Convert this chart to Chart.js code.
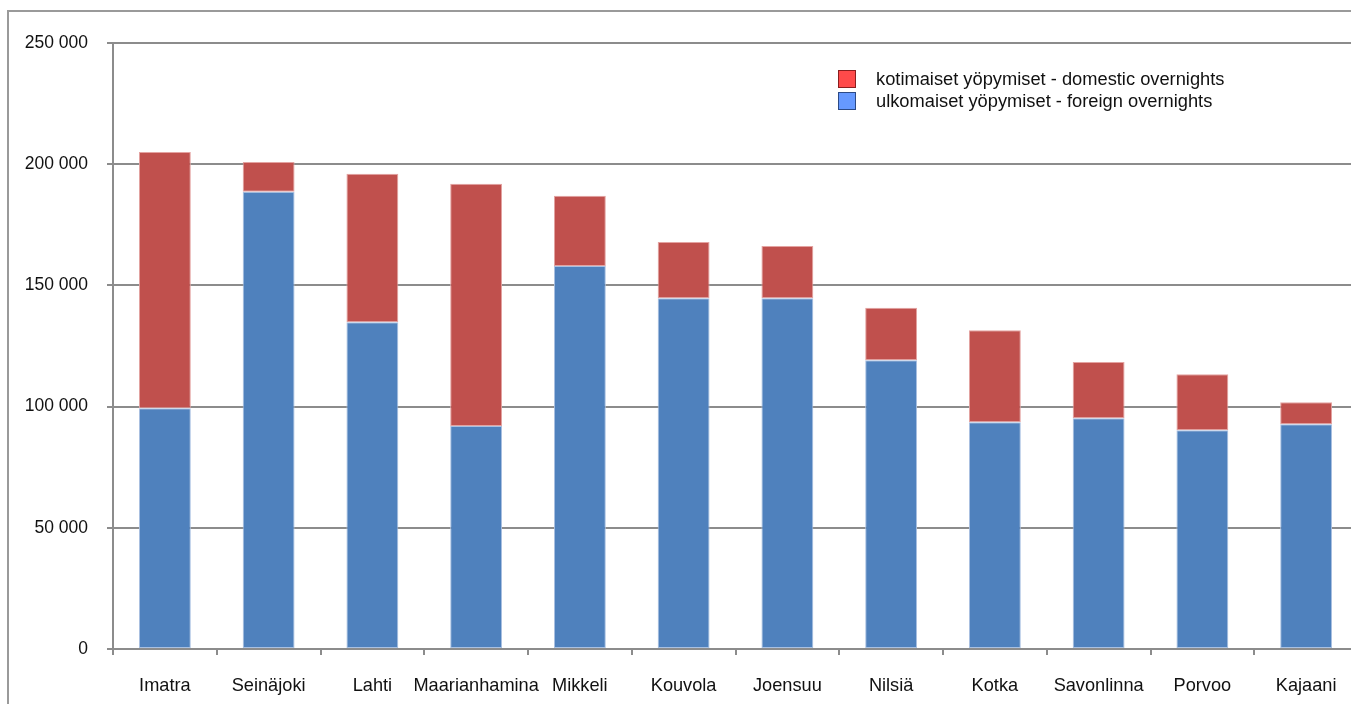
<!DOCTYPE html>
<html>
<head>
<meta charset="utf-8">
<script src="https://cdn.jsdelivr.net/npm/chart.js@4"></script>
<style>
html,body{margin:0;padding:0;overflow:hidden;background:#fff;width:1351px;height:704px;}
canvas{position:absolute;left:0;top:0;}
</style>
</head>
<body>
<canvas id="c" width="1362" height="704"></canvas>
<script>
const categories = ["Imatra","Seinäjoki","Lahti","Maarianhamina","Mikkeli","Kouvola","Joensuu","Nilsiä","Kotka","Savonlinna","Porvoo","Kajaani"];
const foreignOvernights = [99300,188650,134830,92000,157960,144750,144750,119130,93520,95180,90220,92700];
const domesticOvernights = [105750,12270,61260,99960,29040,23130,21480,21600,38000,23260,23130,9090];
const seriesLabels = ["ulkomaiset yöpymiset - foreign overnights","kotimaiset yöpymiset - domestic overnights"];
const yTicks = [0,50000,100000,150000,200000,250000];

const fmt = v => String(v).replace(/\B(?=(\d{3})+(?!\d))/g, " ");

const frame = {
  id: 'frame',
  beforeDraw(chart){
    const ctx = chart.ctx;
    ctx.save();
    ctx.fillStyle = '#fff';
    ctx.fillRect(0,0,chart.width,chart.height);
    ctx.strokeStyle = '#9a9a9a';
    ctx.lineWidth = 2;
    ctx.strokeRect(8, 11, 2000, 2000);
    ctx.restore();
  }
};

const customLegend = {
  id: 'customLegend',
  afterDraw(chart, args, opts){
    const ctx = chart.ctx;
    const ds = chart.data.datasets;
    const order = [1,0];
    ctx.save();
    ctx.font = '18.3px "Liberation Sans", Arial, sans-serif';
    ctx.textBaseline = 'middle';
    order.forEach((di,i)=>{
      const y = opts.y + i*opts.spacing;
      ctx.fillStyle = opts.fills[di];
      ctx.fillRect(opts.x, y-9, 18, 18);
      ctx.strokeStyle = opts.borders[di];
      ctx.lineWidth = 1;
      ctx.strokeRect(opts.x+0.5, y-8.5, 17, 17);
      ctx.fillStyle = '#111';
      ctx.fillText(ds[di].label, opts.x+38, y+1);
    });
    ctx.restore();
  }
};

new Chart(document.getElementById('c'), {
  type: 'bar',
  data: {
    labels: categories,
    datasets: [
      {label: seriesLabels[0], data: foreignOvernights, backgroundColor: '#4F81BD', borderColor: '#A9C1E2', borderWidth: 1, borderSkipped: false},
      {label: seriesLabels[1], data: domesticOvernights, backgroundColor: '#C0504D', borderColor: '#E4A3A1', borderWidth: 1, borderSkipped: false}
    ]
  },
  plugins: [frame, customLegend],
  options: {
    responsive: false,
    animation: false,
    devicePixelRatio: 1,
    layout: {padding: {top: 43, right: 4, bottom: 0, left: 0}},
    datasets: {bar: {barPercentage: 0.5, categoryPercentage: 1.0}},
    plugins: {
      legend: {display: false},
      tooltip: {enabled: false},
      customLegend: {x: 838, y: 79, spacing: 22, fills: ['#6699FF','#FF4A4A'], borders: ['#2C4A86','#8A1E1E']}
    },
    scales: {
      x: {
        stacked: true,
        offset: true,
        grid: {drawOnChartArea: false, drawTicks: true, tickLength: 6, color: '#8c8c8c', lineWidth: 2, offset: true},
        border: {display: true, color: '#8c8c8c', width: 2},
        ticks: {color: '#111', font: {family: '"Liberation Sans", Arial, sans-serif', size: 18.2}, padding: 20, maxRotation: 0, autoSkip: false},
        afterFit(scale){ scale.height = 55; }
      },
      y: {
        stacked: true,
        min: 0,
        max: 250000,
        afterBuildTicks(scale){ scale.ticks = yTicks.map(v=>({value:v})); },
        grid: {color: '#8c8c8c', lineWidth: 2, tickLength: 6, drawTicks: true},
        border: {display: true, color: '#8c8c8c', width: 2},
        ticks: {color: '#111', font: {family: '"Liberation Sans", Arial, sans-serif', size: 17.5}, padding: 19, callback: v => fmt(v)},
        afterFit(scale){ scale.width = 113; }
      }
    }
  }
});
</script>
</body>
</html>
